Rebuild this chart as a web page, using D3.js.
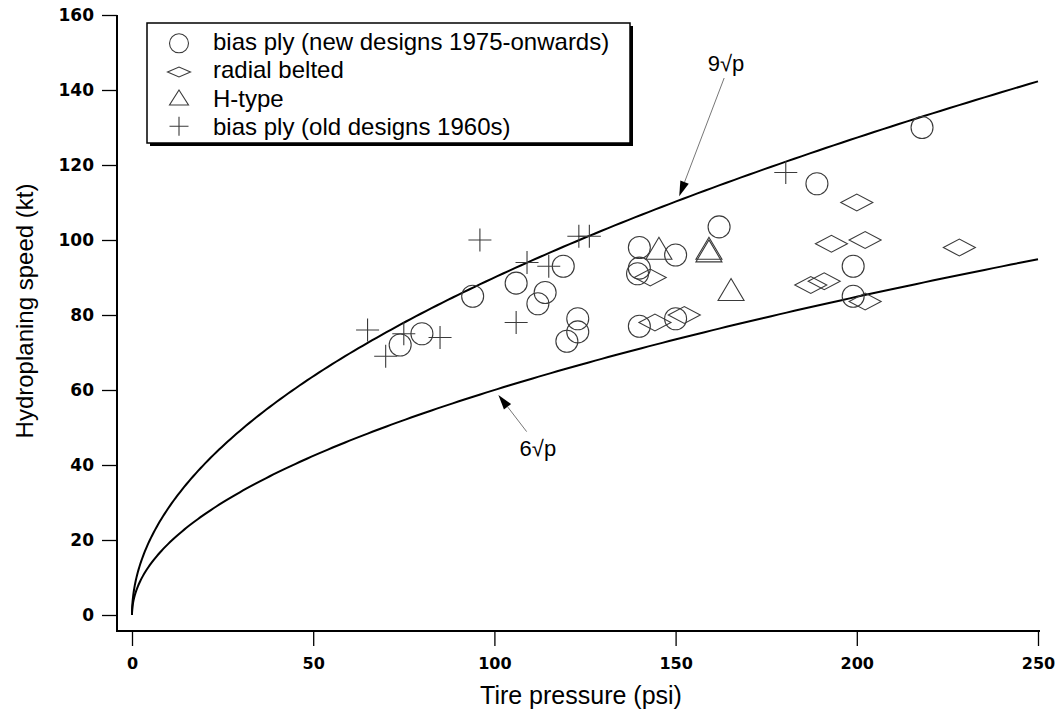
<!DOCTYPE html>
<html>
<head>
<meta charset="utf-8">
<script src="https://cdn.jsdelivr.net/npm/d3@7/dist/d3.min.js"></script>
<style>
  html, body { margin: 0; padding: 0; background: #fff; }
  svg { display: block; }
</style>
</head>
<body>
<svg id="chart" width="1058" height="711"></svg>
<script>
// Hydroplaning speed vs tire pressure, with the 9√p and 6√p reference curves.

// [tire pressure (psi), hydroplaning speed (kt)]
const biasPlyNew = [
  [74, 72], [80, 75], [94, 85], [106, 88.5], [112, 83], [114, 86], [119, 93],
  [120, 73], [123, 75.5], [123, 79], [140, 98], [140, 92.5], [139.5, 91],
  [140, 77], [150, 96], [150, 79], [162, 103.5], [189, 115], [199, 93],
  [199, 85], [218, 130]
];
const radialBelted = [
  [143, 90], [144.3, 78], [152.4, 80], [187.3, 88], [191, 89], [193, 99],
  [200, 110], [202.3, 100], [202.3, 83.6], [228.3, 98]
];
const hType = [
  [145.4, 97.8], [159.2, 97.8], [159.2, 97.1], [165.3, 86.8]
];
const biasPlyOld = [
  [65, 76], [70, 69], [75, 75], [85, 74], [96, 100], [106, 78], [109, 94],
  [115, 93], [123.3, 101], [126.2, 101], [180.4, 118]
];

const curveCoefs = [9, 6];
const xTicks = [0, 50, 100, 150, 200, 250];
const yTicks = [0, 20, 40, 60, 80, 100, 120, 140, 160];

const legendLabels = [
  "bias ply (new designs 1975-onwards)",
  "radial belted",
  "H-type",
  "bias ply (old designs 1960s)"
];

// curve labels: arrow tip and label anchor in data units
const curveNotes = [
  { label: "9\u221Ap", tip: [151, 111.7], from: [163.4, 143.2], text: [163.9, 145] },
  { label: "6\u221Ap", tip: [101.1, 58.7], from: [108.9, 48.9], text: [112, 42.4] }
];

const svg = d3.select("#chart");
const x = d3.scaleLinear().domain([0, 250]).range([132, 1038]);
const y = d3.scaleLinear().domain([0, 160]).range([615, 15]);

const axisX = 117, axisY = 631;
const tickFont = "'DejaVu Sans', sans-serif";
const textFont = "'Liberation Sans', Arial, sans-serif";

// axes
const gy = svg.append("g").attr("transform", `translate(${axisX},0)`)
  .call(d3.axisLeft(y).tickValues(yTicks).tickSize(15).tickPadding(8).tickSizeOuter(0));
gy.select(".domain").remove();
gy.selectAll(".tick line").attr("stroke", "#000").attr("stroke-width", 1.3);
gy.selectAll(".tick text").attr("font-family", tickFont).attr("font-weight", "bold")
  .attr("font-size", 17).attr("fill", "#000");

const gx = svg.append("g").attr("transform", `translate(0,${axisY})`)
  .call(d3.axisBottom(x).tickValues(xTicks).tickSize(15).tickPadding(12).tickSizeOuter(0));
gx.select(".domain").remove();
gx.selectAll(".tick line").attr("stroke", "#000").attr("stroke-width", 1.3);
gx.selectAll(".tick text").attr("font-family", tickFont).attr("font-weight", "bold")
  .attr("font-size", 16).attr("fill", "#000");

svg.append("path")
  .attr("d", `M${axisX},${y(160)}V${axisY}H${x(250) + 2}`)
  .attr("fill", "none").attr("stroke", "#000").attr("stroke-width", 2);

// axis titles
svg.append("text")
  .attr("x", 581).attr("y", 704)
  .attr("text-anchor", "middle")
  .attr("font-family", textFont).attr("font-size", 25)
  .text("Tire pressure (psi)");

svg.append("text")
  .attr("transform", "translate(33,311) rotate(-90)")
  .attr("text-anchor", "middle")
  .attr("font-family", textFont).attr("font-size", 24)
  .text("Hydroplaning speed (kt)");

// reference curves v = k·√p
const pSamples = d3.range(0, 1.0001, 0.005).map(t => 250 * t * t);
const line = d3.line().x(d => x(d[0])).y(d => y(d[1]));
svg.append("g").selectAll("path")
  .data(curveCoefs)
  .join("path")
  .attr("d", k => line(pSamples.map(p => [p, k * Math.sqrt(p)])))
  .attr("fill", "none").attr("stroke", "#000").attr("stroke-width", 2);

// marker shapes
const shapes = {
  circle: (r) => `M${r},0A${r},${r} 0 1,1 ${-r},0A${r},${r} 0 1,1 ${r},0Z`,
  diamond: (w, h) => `M${-w},0L0,${-h}L${w},0L0,${h}Z`,
  triangle: (w, h) => `M0,${-h / 2}L${w / 2},${h / 2}L${-w / 2},${h / 2}Z`,
  plus: (s) => `M${-s},0H${s}M0,${-s}V${s}`
};

const series = [
  { data: biasPlyNew, d: shapes.circle(11), ld: shapes.circle(9.5) },
  { data: radialBelted, d: shapes.diamond(16, 8.5), ld: shapes.diamond(11.5, 5) },
  { data: hType, d: shapes.triangle(26, 22), ld: shapes.triangle(19, 15) },
  { data: biasPlyOld, d: shapes.plus(11.5), ld: shapes.plus(9.5) }
];

const marks = svg.append("g");
series.forEach(s => {
  marks.append("g").selectAll("path")
    .data(s.data)
    .join("path")
    .attr("transform", d => `translate(${x(d[0])},${y(d[1])})`)
    .attr("d", s.d)
    .attr("fill", "none").attr("stroke", "#3a3a3a").attr("stroke-width", 1.1);
});

// curve annotations
const notes = svg.append("g");
curveNotes.forEach(n => {
  const tx = x(n.tip[0]), ty = y(n.tip[1]);
  const fx = x(n.from[0]), fy = y(n.from[1]);
  const ang = Math.atan2(ty - fy, tx - fx);
  const L = 15, W = 4.5;
  const bx = tx - L * Math.cos(ang), by = ty - L * Math.sin(ang);
  notes.append("line")
    .attr("x1", fx).attr("y1", fy).attr("x2", bx).attr("y2", by)
    .attr("stroke", "#777").attr("stroke-width", 1);
  notes.append("path")
    .attr("d", `M${tx},${ty}L${bx - W * Math.sin(ang)},${by + W * Math.cos(ang)}L${bx + W * Math.sin(ang)},${by - W * Math.cos(ang)}Z`)
    .attr("fill", "#000");
  notes.append("text")
    .attr("x", x(n.text[0])).attr("y", y(n.text[1]))
    .attr("text-anchor", "middle")
    .attr("font-family", textFont).attr("font-size", 22)
    .text(n.label);
});

// legend
const legend = svg.append("g");
const lx = 147, ltop = 23, lw = 483, lh = 120;
legend.append("rect")
  .attr("x", lx + 3).attr("y", ltop + 3).attr("width", lw).attr("height", lh)
  .attr("fill", "#000");
legend.append("rect")
  .attr("x", lx).attr("y", ltop).attr("width", lw).attr("height", lh)
  .attr("fill", "#fff").attr("stroke", "#000").attr("stroke-width", 1.5);

const rowBase = [50, 78, 106.5, 135];
const symY = [43.3, 72, 97.5, 126.3];
legendLabels.forEach((lab, i) => {
  legend.append("path")
    .attr("transform", `translate(179,${symY[i]})`)
    .attr("d", series[i].ld)
    .attr("fill", "none").attr("stroke", "#3a3a3a").attr("stroke-width", 1.1);
  legend.append("text")
    .attr("x", 213).attr("y", rowBase[i])
    .attr("font-family", textFont).attr("font-size", 24)
    .text(lab);
});
</script>
</body>
</html>
